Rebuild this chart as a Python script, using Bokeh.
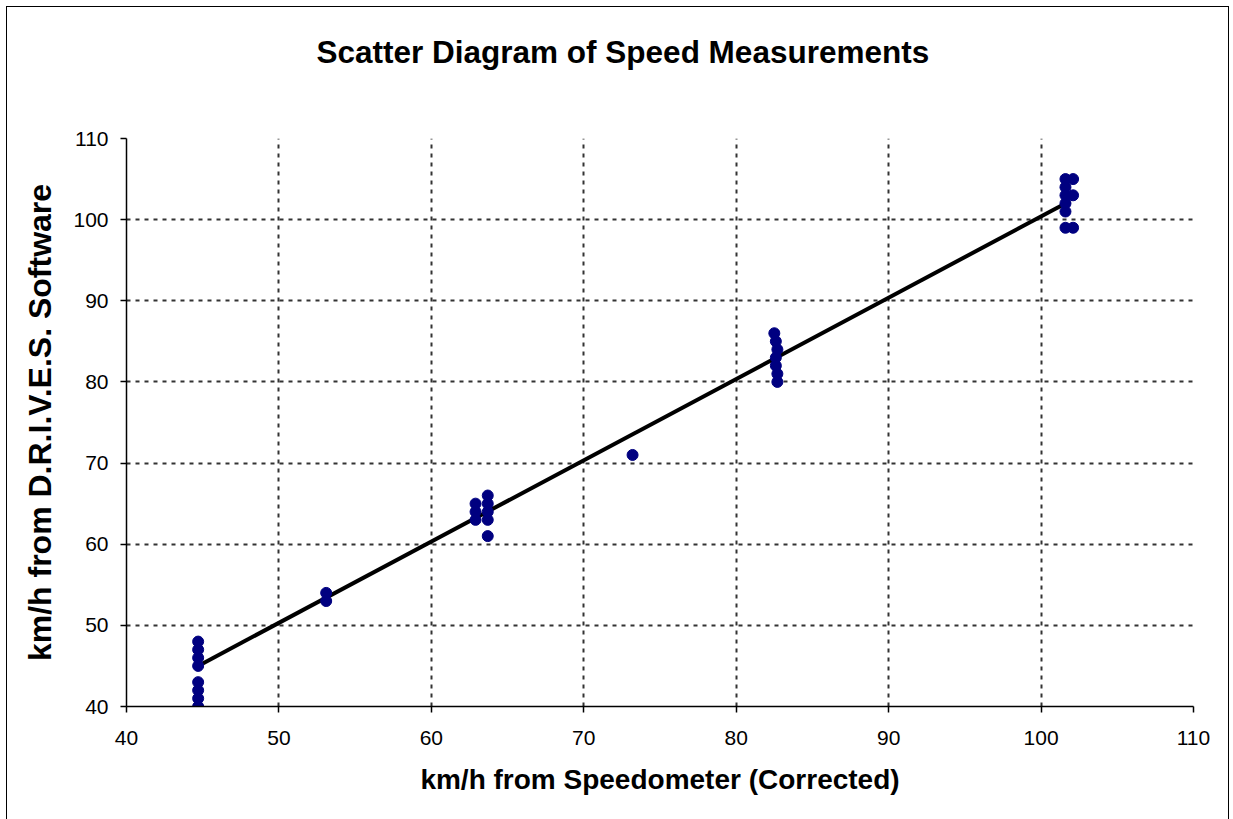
from bokeh.plotting import figure
from bokeh.embed import file_html
from bokeh.resources import INLINE
from bokeh.models import FixedTicker, Range1d, Title

# Data
speedo = [44.7, 44.7, 44.7, 44.7, 44.7, 44.7, 44.7, 44.7,
          53.1, 53.1,
          62.9, 62.9, 62.9,
          63.7, 63.7, 63.7, 63.7, 63.7,
          73.2,
          82.5, 82.6, 82.7, 82.6, 82.6, 82.7, 82.7,
          101.6, 101.6, 101.6, 101.6, 101.6, 101.6,
          102.1, 102.1, 102.1]
drives = [48, 47, 46, 45, 43, 42, 41, 40,
          54, 53,
          65, 64, 63,
          66, 65, 64, 63, 61,
          71,
          86, 85, 84, 83, 82, 81, 80,
          105, 104, 103, 102, 101, 99,
          105, 103, 99]
trend_x = [44.7, 101.9]
trend_y = [45.0, 102.3]
ticks = [40, 50, 60, 70, 80, 90, 100, 110]
title_text = "Scatter Diagram of Speed Measurements"

p = figure(width=1223, height=830, output_backend="svg", toolbar_location=None,
           x_range=Range1d(40, 110), y_range=Range1d(40, 110))
p.min_border_left = 119
p.min_border_right = 37
p.min_border_top = 131
p.min_border_bottom = 131
p.styles = {"border": "1px solid #000", "box-sizing": "border-box",
            "margin-left": "6px", "margin-top": "6px"}

# spacer panel between the frame and the title
p.add_layout(Title(text=" ", text_font_size="2px", standoff=60), "above")
p.add_layout(Title(text=title_text, align="left", offset=190, standoff=10,
                   text_font="Liberation Sans", text_font_size="31.5px",
                   text_font_style="bold", text_color="black"), "above")

p.outline_line_color = None
p.background_fill_color = "white"

for ax in (p.xaxis[0], p.yaxis[0]):
    ax.ticker = FixedTicker(ticks=ticks)
    ax.minor_tick_line_color = None
    ax.major_tick_in = 0
    ax.major_tick_out = 6
    ax.axis_line_color = "black"
    ax.axis_line_width = 1.5
    ax.major_tick_line_color = "black"
    ax.major_tick_line_width = 1.5
    ax.major_label_text_font = "Liberation Sans"
    ax.major_label_text_font_size = "21px"
    ax.major_label_text_color = "black"
    ax.axis_label_text_font = "Liberation Sans"
    ax.axis_label_text_font_style = "bold"
    ax.axis_label_text_color = "black"

p.xaxis.axis_label = "km/h from Speedometer (Corrected)"
p.yaxis.axis_label = "km/h from D.R.I.V.E.S. Software"
p.xaxis.axis_label_text_font_size = "28px"
p.yaxis.axis_label_text_font_size = "32px"
p.xaxis.major_label_standoff = 18
p.yaxis.major_label_standoff = 12
p.xaxis.axis_label_standoff = 16
p.yaxis.axis_label_standoff = 12

for g in (p.xgrid[0], p.ygrid[0]):
    g.ticker = FixedTicker(ticks=ticks)
    g.grid_line_color = "#333333"
    g.grid_line_width = 2
    g.grid_line_dash = "4 5"

p.line(trend_x, trend_y, line_color="black", line_width=4)
p.scatter(speedo, drives, size=11, fill_color="#000080", line_color="#000080")

open("out.html", "w").write(file_html(p, INLINE))
